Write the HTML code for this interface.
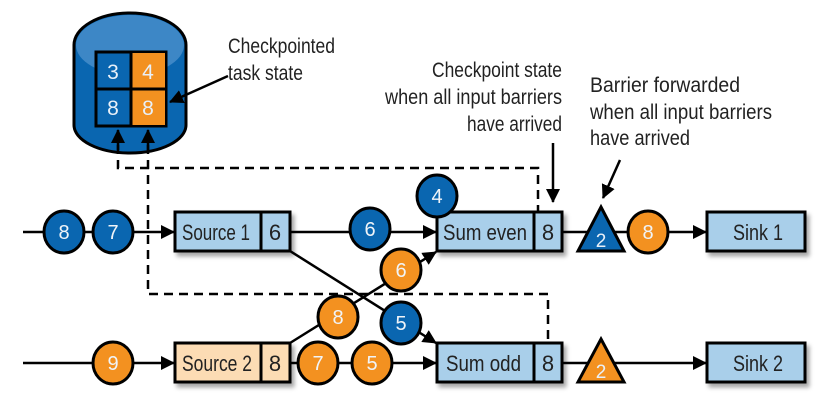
<!DOCTYPE html>
<html><head><style>
html,body{margin:0;padding:0;background:#fff;width:833px;height:418px;overflow:hidden}
text{font-family:"Liberation Sans",sans-serif}
</style></head><body>
<svg width="833" height="418" viewBox="0 0 833 418" xmlns="http://www.w3.org/2000/svg">
<defs>
<marker id="b" markerWidth="14" markerHeight="14" refX="13" refY="7" orient="auto" markerUnits="userSpaceOnUse"><path d="M0,0 L14,7 L0,14 z" fill="#000"/></marker>
<filter id="s" x="-10%" y="-10%" width="130%" height="140%"><feDropShadow dx="3" dy="4" stdDeviation="2" flood-color="#000" flood-opacity="0.35"/></filter>
</defs>

<!-- cylinder -->
<path d="M74,45 A56,32 0 0 1 186,45 V125 A56,28 0 0 1 74,125 Z" fill="#0a66b0" stroke="#000" stroke-width="3"/>
<ellipse cx="130" cy="45" rx="54" ry="30" fill="#4a90cc" opacity="0.8"/>
<rect x="96" y="52" width="70" height="74" fill="#0a66b0" stroke="#000" stroke-width="3"/>
<rect x="131" y="53" width="34" height="36" fill="#f39120"/>
<rect x="131" y="89" width="34" height="36" fill="#f39120"/>
<line x1="96" y1="89" x2="166" y2="89" stroke="#000" stroke-width="3"/>
<line x1="131" y1="52" x2="131" y2="126" stroke="#000" stroke-width="3"/>
<g fill="#e8f0f8" font-size="21" text-anchor="middle">
<text x="113" y="79">3</text><text x="148" y="79">4</text>
<text x="113" y="115">8</text><text x="148" y="115">8</text>
</g>

<!-- dashed -->
<g fill="none" stroke="#000" stroke-width="2.5" stroke-dasharray="9,6">
<path d="M118,145 V168 H538 V212"/>
<path d="M148,145 V294 H548 V343"/>
</g>
<line x1="118" y1="150" x2="118" y2="130" stroke="#000" stroke-width="2.5" marker-end="url(#b)"/>
<line x1="148" y1="150" x2="148" y2="130" stroke="#000" stroke-width="2.5" marker-end="url(#b)"/>

<!-- annotations -->
<g font-size="21" fill="#222" lengthAdjust="spacingAndGlyphs">
<text x="228" y="53" textLength="107" lengthAdjust="spacingAndGlyphs">Checkpointed</text>
<text x="228" y="80" textLength="75" lengthAdjust="spacingAndGlyphs">task state</text>
<text x="432" y="77" textLength="130" lengthAdjust="spacingAndGlyphs">Checkpoint state</text>
<text x="385" y="104" textLength="177" lengthAdjust="spacingAndGlyphs">when all input barriers</text>
<text x="467" y="131" textLength="95" lengthAdjust="spacingAndGlyphs">have arrived</text>
<text x="590" y="92" textLength="150" lengthAdjust="spacingAndGlyphs">Barrier forwarded</text>
<text x="590" y="119" textLength="182" lengthAdjust="spacingAndGlyphs">when all input barriers</text>
<text x="590" y="145" textLength="100" lengthAdjust="spacingAndGlyphs">have arrived</text>
</g>
<line x1="228" y1="76" x2="170" y2="102" stroke="#000" stroke-width="2.5" marker-end="url(#b)"/>
<line x1="553" y1="143" x2="553" y2="202" stroke="#000" stroke-width="2.5" marker-end="url(#b)"/>
<line x1="620" y1="160" x2="603" y2="198" stroke="#000" stroke-width="2.5" marker-end="url(#b)"/>

<!-- lines -->
<g stroke="#000" stroke-width="2.5" fill="none">
<line x1="23" y1="232" x2="174" y2="232" marker-end="url(#b)"/>
<line x1="290" y1="232" x2="436" y2="232" marker-end="url(#b)"/>
<line x1="562" y1="232" x2="706" y2="232" marker-end="url(#b)"/>
<line x1="23" y1="363" x2="174" y2="363" marker-end="url(#b)"/>
<line x1="290" y1="363" x2="436" y2="363" marker-end="url(#b)"/>
<line x1="562" y1="363" x2="706" y2="363" marker-end="url(#b)"/>
<line x1="290" y1="251" x2="436" y2="343" marker-end="url(#b)"/>
<line x1="290" y1="343" x2="436" y2="252" marker-end="url(#b)"/>
</g>

<!-- boxes -->
<g stroke="#000" stroke-width="3" filter="url(#s)">
<rect x="175" y="212" width="115" height="39" fill="#a9cfea"/>
<rect x="437" y="212" width="125" height="39" fill="#a9cfea"/>
<rect x="707" y="212" width="98" height="39" fill="#a9cfea"/>
<rect x="175" y="343" width="115" height="39" fill="#fcdcb4"/>
<rect x="437" y="343" width="125" height="39" fill="#a9cfea"/>
<rect x="707" y="343" width="98" height="39" fill="#a9cfea"/>
</g>
<g stroke="#000" stroke-width="3">
<line x1="261" y1="212" x2="261" y2="251"/><line x1="534" y1="212" x2="534" y2="251"/>
<line x1="261" y1="343" x2="261" y2="382"/><line x1="534" y1="343" x2="534" y2="382"/>
</g>
<g font-size="22" fill="#222">
<text x="182" y="240" textLength="68" lengthAdjust="spacingAndGlyphs">Source 1</text>
<text x="443" y="240" textLength="84" lengthAdjust="spacingAndGlyphs">Sum even</text>
<text x="733" y="240" textLength="50" lengthAdjust="spacingAndGlyphs">Sink 1</text>
<text x="182" y="371" textLength="70" lengthAdjust="spacingAndGlyphs">Source 2</text>
<text x="446" y="371" textLength="75" lengthAdjust="spacingAndGlyphs">Sum odd</text>
<text x="733" y="371" textLength="50" lengthAdjust="spacingAndGlyphs">Sink 2</text>
</g>
<g font-size="22" fill="#222" text-anchor="middle">
<text x="275" y="240">6</text><text x="548" y="240">8</text>
<text x="275" y="371">8</text><text x="548" y="371">8</text>
</g>

<!-- triangles -->
<path d="M601,207 L624,251 L578,251 z" fill="#0a66b0" stroke="#000" stroke-width="3"/>
<path d="M601,339 L624,382 L578,382 z" fill="#f39120" stroke="#000" stroke-width="3"/>
<g font-size="19" fill="#e8f0f8" text-anchor="middle">
<text x="601" y="247">2</text><text x="601" y="378">2</text>
</g>

<!-- circles -->
<g stroke="#000" stroke-width="3">
<g fill="#0a66b0">
<ellipse cx="64" cy="232" rx="20" ry="21"/>
<ellipse cx="113" cy="232" rx="20" ry="21"/>
<ellipse cx="370" cy="229" rx="20" ry="21"/>
<ellipse cx="437" cy="196" rx="20" ry="21"/>
<ellipse cx="401" cy="323" rx="20" ry="21"/>
</g>
<g fill="#f39120">
<ellipse cx="401" cy="270" rx="20" ry="21"/>
<ellipse cx="338" cy="317" rx="20" ry="21"/>
<ellipse cx="113" cy="363" rx="20" ry="21"/>
<ellipse cx="318" cy="363" rx="20" ry="21"/>
<ellipse cx="372" cy="363" rx="20" ry="21"/>
<ellipse cx="648" cy="232" rx="20" ry="21"/>
</g>
</g>
<g font-size="20" fill="#f0f4f8" text-anchor="middle">
<text x="64" y="239">8</text><text x="113" y="239">7</text><text x="370" y="236">6</text>
<text x="437" y="203">4</text><text x="401" y="330">5</text>
<text x="401" y="277">6</text><text x="338" y="324">8</text><text x="113" y="370">9</text>
<text x="318" y="370">7</text><text x="372" y="370">5</text><text x="648" y="239">8</text>
</g>
</svg>
</body></html>
